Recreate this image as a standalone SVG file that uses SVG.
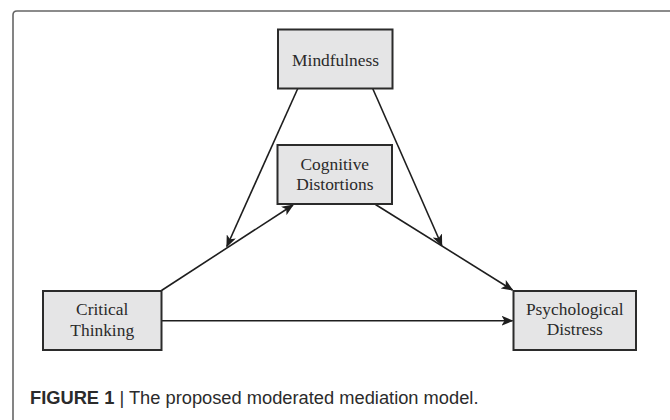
<svg xmlns="http://www.w3.org/2000/svg" width="670" height="420" viewBox="0 0 670 420">
  <defs>
    <style>
      .box { fill: #e5e5e6; stroke: #2b2b2b; stroke-width: 2; }
      .label { font-family: "Liberation Serif", "Times New Roman", serif; font-size: 17.4px; fill: #2a2a2a; text-anchor: middle; }
      .edge { stroke: #1e1e1e; stroke-width: 1.6; fill: none; marker-end: url(#head); }
      .frame { stroke: #666; stroke-width: 1.6; fill: none; }
      .caption { font-family: "Liberation Sans", Arial, sans-serif; font-size: 18.3px; fill: #2b2b2b; }
    </style>
    <marker id="head" viewBox="0 0 12 10" refX="11" refY="5" markerWidth="12" markerHeight="10" markerUnits="userSpaceOnUse" orient="auto">
      <path d="M0,0 L12,5 L0,10 L3,5 Z" fill="#1e1e1e"/>
    </marker>
  </defs>

  <rect width="670" height="420" fill="#ffffff"/>

  <!-- figure frame: open to the right and bottom -->
  <path class="frame" d="M13,420 V15 Q13,11 17,11 H670"/>

  <!-- connectors -->
  <g id="connectors">
    <line class="edge" x1="161.5" y1="290.5" x2="293" y2="205"/>
    <line class="edge" x1="297.8" y1="88.5" x2="226.8" y2="246.5"/>
    <line class="edge" x1="372.7" y1="88.5" x2="441.8" y2="245.5"/>
    <line class="edge" x1="375.5" y1="204.5" x2="512.5" y2="290"/>
    <line class="edge" x1="162" y1="320.7" x2="512.5" y2="320.7"/>
  </g>

  <!-- nodes -->
  <g id="mindfulness">
    <rect class="box" x="278" y="29.5" width="114.5" height="59"/>
    <text class="label" x="335.6" y="65.5">Mindfulness</text>
  </g>

  <g id="cognitive-distortions">
    <rect class="box" x="277.5" y="145" width="114.5" height="59"/>
    <text class="label" x="334.8" y="169.5">Cognitive</text>
    <text class="label" x="334.8" y="190">Distortions</text>
  </g>

  <g id="critical-thinking">
    <rect class="box" x="43" y="291" width="118.5" height="59"/>
    <text class="label" x="102.2" y="315">Critical</text>
    <text class="label" x="102.2" y="335.7">Thinking</text>
  </g>

  <g id="psychological-distress">
    <rect class="box" x="513.5" y="291" width="122.5" height="59"/>
    <text class="label" x="574.7" y="314.5">Psychological</text>
    <text class="label" x="574.7" y="335.2">Distress</text>
  </g>

  <!-- caption -->
  <text class="caption" x="30" y="404"><tspan font-weight="bold">FIGURE 1</tspan> | The proposed moderated mediation model.</text>
</svg>
